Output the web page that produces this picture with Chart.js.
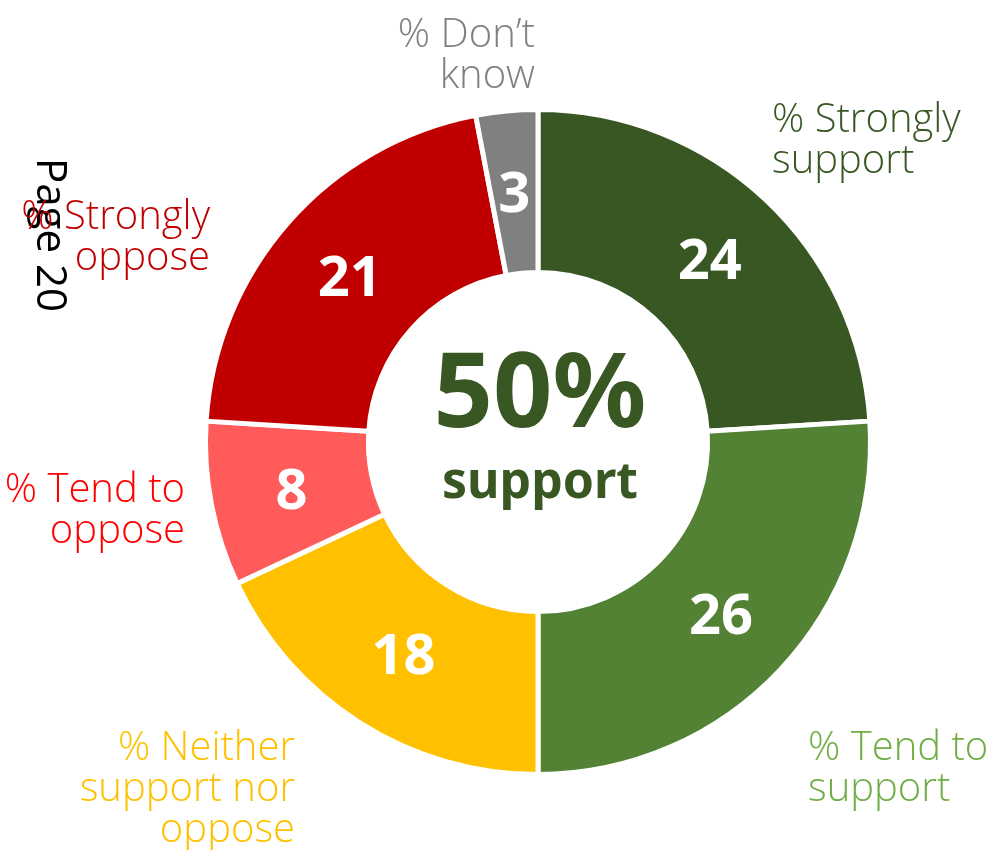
<!DOCTYPE html>
<html>
<head>
<meta charset="utf-8">
<title>Support</title>
<script src="https://cdn.jsdelivr.net/npm/chart.js@4"></script>
<style>
    html, body { margin: 0; padding: 0; background: #ffffff; }
    #wrap { width: 988px; height: 850px; position: relative; }
</style>
</head>
<body>
<div id="wrap"><canvas id="chart" width="988" height="850"></canvas></div>
<script>
const categories = [
    ['% Strongly', 'support'],
    ['% Tend to', 'support'],
    ['% Neither', 'support nor', 'oppose'],
    ['% Tend to', 'oppose'],
    ['% Strongly', 'oppose'],
    ['% Don\u2019t', 'know'],
];
const values = [24, 26, 18, 8, 21, 3];
const sliceColors = ['#385723', '#548235', '#FFC000', '#FF5B5B', '#C00000', '#808080'];
const labelColors = ['#385723', '#70AD47', '#FFC000', '#FF0000', '#C00000', '#808080'];
const pageLabel = 'Page 20';

const LABEL_FONT = '300 40px "Open Sans", "Noto Sans", sans-serif';
const LINE_H = 41;

// where each category caption sits, relative to the ring's centre
const captionPlace = [
    { dx: 234, dy: -321, align: 'left' },
    { dx: 270, dy: 307, align: 'left' },
    { dx: -243, dy: 307, align: 'right' },
    { dx: -353, dy: 49, align: 'right' },
    { dx: -328, dy: -224, align: 'right' },
    { dx: -3, dy: -406, align: 'right' },
];

const ringText = {
    id: 'ringText',
    afterDatasetsDraw(chart) {
        const ctx = chart.ctx;
        const arcs = chart.getDatasetMeta(0).data;
        const cx = arcs[0].x;
        const cy = arcs[0].y;

        ctx.save();

        // rotated page marker
        ctx.save();
        ctx.translate(37, 158);
        ctx.rotate(Math.PI / 2);
        ctx.font = '400 42px "Open Sans", "Noto Sans", sans-serif';
        ctx.fillStyle = '#000000';
        ctx.textAlign = 'left';
        ctx.textBaseline = 'alphabetic';
        ctx.fillText(pageLabel, 0, 0);
        ctx.restore();

        // values inside each slice
        ctx.font = 'bold 56px "Noto Sans", "Open Sans", sans-serif';
        ctx.fillStyle = '#ffffff';
        ctx.textAlign = 'center';
        ctx.textBaseline = 'middle';
        arcs.forEach((arc, i) => {
            const p = arc.tooltipPosition();
            ctx.fillText(String(values[i]), p.x, p.y + 4);
        });

        // captions round the ring
        ctx.font = LABEL_FONT;
        ctx.textBaseline = 'middle';
        categories.forEach((lines, i) => {
            const place = captionPlace[i];
            ctx.fillStyle = labelColors[i];
            ctx.textAlign = place.align;
            lines.forEach((line, j) => {
                ctx.fillText(line, cx + place.dx, cy + place.dy + j * LINE_H);
            });
        });

        // share that supports, in the hole
        const support = values[0] + values[1];
        ctx.fillStyle = '#385723';
        ctx.textAlign = 'center';
        ctx.textBaseline = 'alphabetic';
        ctx.font = 'bold 104px "Noto Sans", "Open Sans", sans-serif';
        ctx.fillText(support + '%', cx + 2, cy - 15);
        ctx.font = 'bold 50px "Noto Sans", "Open Sans", sans-serif';
        ctx.fillText('support', cx + 2, cy + 56);

        ctx.restore();
    }
};

new Chart(document.getElementById('chart'), {
    type: 'doughnut',
    data: {
        labels: categories.map(l => l.join(' ')),
        datasets: [{
            data: values,
            backgroundColor: sliceColors,
            borderColor: '#ffffff',
            borderWidth: 5,
            hoverOffset: 0,
        }]
    },
    options: {
        responsive: false,
        animation: false,
        cutout: '51%',
        rotation: 0,
        layout: {
            padding: { left: 202, right: 114, top: 107, bottom: 73 }
        },
        plugins: {
            legend: { display: false },
            tooltip: { enabled: false },
        }
    },
    plugins: [ringText]
});
</script>
</body>
</html>
